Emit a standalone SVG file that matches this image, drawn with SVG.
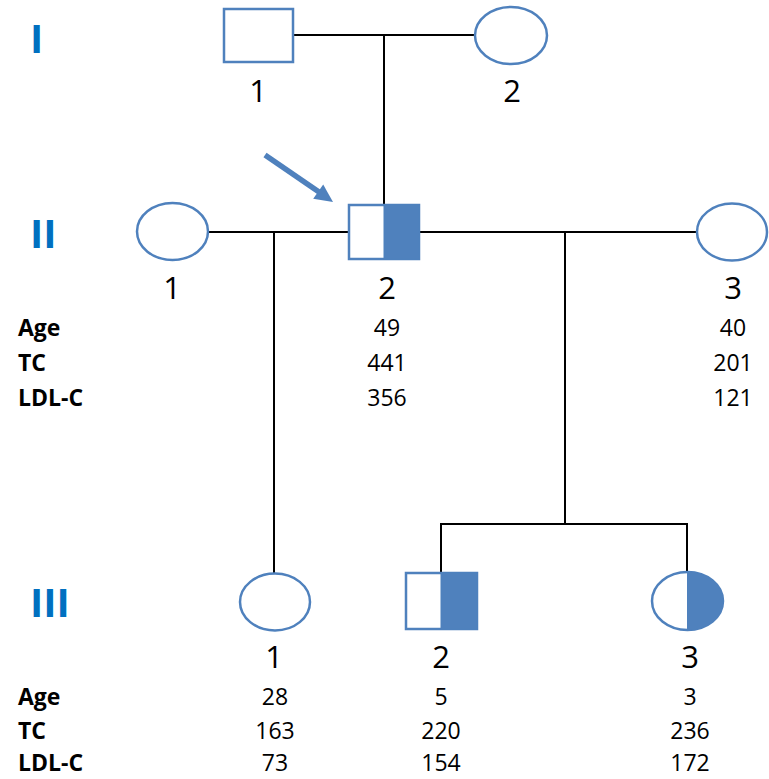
<svg xmlns="http://www.w3.org/2000/svg" width="769" height="779" viewBox="0 0 769 779">
<style>
.sym{fill:#fff;stroke:#4F81BD;stroke-width:2.5}
.fill{fill:#4F81BD;stroke:#4F81BD;stroke-width:1}
.ln{stroke:#000;stroke-width:2;fill:none}
.gen{font-family:"Open Sans","Liberation Sans",sans-serif;font-weight:bold;font-size:40px;fill:#0070C0}
.id{font-family:"Open Sans","Liberation Sans",sans-serif;font-size:31px;fill:#000;text-anchor:middle}
.val{font-family:"Open Sans","Liberation Sans",sans-serif;font-size:23px;fill:#000;text-anchor:middle}
.lab{font-family:"Open Sans","Liberation Sans",sans-serif;font-weight:bold;font-size:23px;fill:#000}
</style>
<rect width="769" height="779" fill="#fff"/>
<g id="connectors">
<line class="ln" x1="293" y1="35" x2="475" y2="35"/>
<line class="ln" x1="384" y1="35" x2="384" y2="205"/>
<line class="ln" x1="208" y1="232" x2="349" y2="232"/>
<line class="ln" x1="419" y1="232" x2="697" y2="232"/>
<line class="ln" x1="274" y1="232" x2="274" y2="574"/>
<line class="ln" x1="565" y1="232" x2="565" y2="524"/>
<polyline class="ln" points="441,573 441,524 687,524 687,572"/>
<g id="proband-arrow">
<line x1="265" y1="155" x2="319" y2="192" stroke="#4F81BD" stroke-width="5.5"/>
<polygon points="333,202 313.2,198.8 323.2,184.6" fill="#4F81BD"/>
</g>
</g>
<g id="labels-gen">
<text class="gen" x="30" y="53">I</text>
<text class="gen" x="30" y="248">II</text>
<text class="gen" x="30" y="617">III</text>
</g>
<g id="I-1">
<rect class="sym" x="224" y="9" width="69" height="53"/>
<text class="id" x="258" y="102">1</text>
</g>
<g id="I-2">
<ellipse class="sym" cx="511" cy="35.5" rx="36" ry="28.5"/>
<text class="id" x="512" y="102">2</text>
</g>
<g id="II-1">
<ellipse class="sym" cx="172.5" cy="231.5" rx="35.5" ry="28.5"/>
<text class="id" x="172" y="299">1</text>
</g>
<g id="II-2">
<rect class="sym" x="349" y="205" width="70" height="54"/>
<rect class="fill" x="384" y="205" width="35" height="54"/>
<text class="id" x="387" y="299">2</text>
<text class="val" x="387" y="336">49</text>
<text class="val" x="387" y="371">441</text>
<text class="val" x="387" y="406">356</text>
</g>
<g id="II-3">
<ellipse class="sym" cx="732" cy="232" rx="35" ry="28.5"/>
<text class="id" x="733" y="299">3</text>
<text class="val" x="733" y="336">40</text>
<text class="val" x="733" y="371">201</text>
<text class="val" x="733" y="406">121</text>
</g>
<g id="row-labels-II">
<text class="lab" x="18" y="336">Age</text>
<text class="lab" x="18" y="371">TC</text>
<text class="lab" x="18" y="406">LDL-C</text>
</g>
<g id="III-1">
<ellipse class="sym" cx="275" cy="602" rx="35" ry="28.5"/>
<text class="id" x="274" y="668">1</text>
<text class="val" x="275" y="705">28</text>
<text class="val" x="275" y="739">163</text>
<text class="val" x="275" y="771">73</text>
</g>
<g id="III-2">
<rect class="sym" x="406" y="573" width="71" height="56"/>
<rect class="fill" x="441" y="573" width="36" height="56"/>
<text class="id" x="441" y="668">2</text>
<text class="val" x="441" y="705">5</text>
<text class="val" x="441" y="739">220</text>
<text class="val" x="441" y="771">154</text>
</g>
<g id="III-3">
<ellipse class="sym" cx="687.5" cy="601" rx="35.5" ry="29"/>
<path class="fill" d="M687.5 572 A35.5 29 0 0 1 687.5 630 Z"/>
<text class="id" x="690" y="668">3</text>
<text class="val" x="690" y="705">3</text>
<text class="val" x="690" y="739">236</text>
<text class="val" x="690" y="771">172</text>
</g>
<g id="row-labels-III">
<text class="lab" x="18" y="705">Age</text>
<text class="lab" x="18" y="739">TC</text>
<text class="lab" x="18" y="771">LDL-C</text>
</g>
</svg>
